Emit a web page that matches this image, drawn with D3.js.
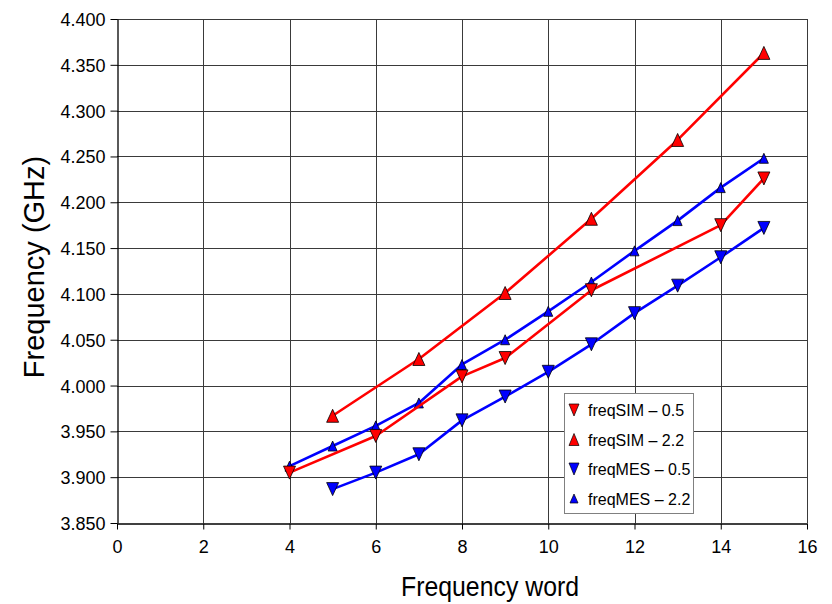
<!DOCTYPE html>
<html>
<head>
<meta charset="utf-8">
<script src="https://cdn.jsdelivr.net/npm/d3@7"></script>
<style>
  html, body { margin: 0; padding: 0; background: #fff; }
  svg { display: block; font-family: "Liberation Sans", Arial, sans-serif; }
</style>
</head>
<body>
<svg id="chart" width="832" height="604"></svg>
<script>
// Frequency word settings
const words = [4, 5, 6, 7, 8, 9, 10, 11, 12, 13, 14, 15];

// Measured / simulated oscillator frequencies (GHz)
const simLowX  = [4, 6, 8, 9, 11, 14, 15];
const simLow   = [3.905, 3.945, 4.010, 4.030, 4.104, 4.175, 4.226];
const simHighX = [5, 7, 9, 11, 13, 15];
const simHigh  = [3.967, 4.029, 4.101, 4.182, 4.268, 4.363];
const mesLowX  = [5, 6, 7, 8, 9, 10, 11, 12, 13, 14, 15];
const mesLow   = [3.887, 3.905, 3.925, 3.962, 3.988, 4.015, 4.045, 4.079, 4.109, 4.140, 4.172];
const mesHigh  = [3.912, 3.934, 3.956, 3.981, 4.023, 4.050, 4.081, 4.113, 4.147, 4.180, 4.216, 4.248];

const xTicks = [0, 2, 4, 6, 8, 10, 12, 14, 16];
const yTicks = [3.85, 3.90, 3.95, 4.00, 4.05, 4.10, 4.15, 4.20, 4.25, 4.30, 4.35, 4.40];

const seriesNames = ["freqSIM \u2013 0.5", "freqSIM \u2013 2.2", "freqMES \u2013 0.5", "freqMES \u2013 2.2"];

const series = [
  { name: seriesNames[2], xs: mesLowX, ys: mesLow,  color: "#0000ff", dir: "down", w: 12, h: 13 },
  { name: seriesNames[3], xs: words,   ys: mesHigh, color: "#0000ff", dir: "up",   w: 9,  h: 10 },
  { name: seriesNames[0], xs: simLowX, ys: simLow,  color: "#ff0000", dir: "down", w: 12, h: 13 },
  { name: seriesNames[1], xs: simHighX, ys: simHigh, color: "#ff0000", dir: "up",  w: 12, h: 13 }
];

const svg = d3.select("#chart");
const x = d3.scaleLinear().domain([0, 16]).range([117, 807]);
const y = d3.scaleLinear().domain([3.85, 4.40]).range([523, 19]);

svg.append("rect").attr("width", 832).attr("height", 604).attr("fill", "#fff");

// Gridlines
const grid = svg.append("g").attr("class", "grid");
grid.selectAll("line.h").data(yTicks.slice(1)).join("line")
  .attr("x1", x(0)).attr("x2", x(16))
  .attr("y1", d => Math.round(y(d)) + 0.5).attr("y2", d => Math.round(y(d)) + 0.5)
  .attr("stroke", "#3a3a3a").attr("stroke-width", 1);
grid.selectAll("line.v").data(xTicks.slice(1)).join("line")
  .attr("y1", y(4.40)).attr("y2", y(3.85))
  .attr("x1", d => Math.round(x(d)) + 0.5).attr("x2", d => Math.round(x(d)) + 0.5)
  .attr("stroke", "#3a3a3a").attr("stroke-width", 1);

// Axes
const yAxis = svg.append("g")
  .attr("transform", `translate(${Math.round(x(0)) + 0.5},0)`)
  .call(d3.axisLeft(y).tickValues(yTicks).tickFormat(d3.format(".3f")).tickSize(7).tickSizeOuter(0).tickPadding(5));
const xAxis = svg.append("g")
  .attr("transform", `translate(0,${Math.round(y(3.85)) + 0.5})`)
  .call(d3.axisBottom(x).tickValues(xTicks).tickFormat(d3.format("d")).tickSize(6).tickSizeOuter(0).tickPadding(11));

[yAxis, xAxis].forEach(a => {
  a.select(".domain").attr("stroke", "#000").attr("stroke-width", 1.3);
  a.selectAll(".tick line").attr("stroke", "#000");
  a.selectAll(".tick text").attr("fill", "#000").attr("font-size", 18)
    .attr("font-family", "'Liberation Sans', Arial, sans-serif");
});
yAxis.selectAll(".tick text").attr("dy", "0.36em");

// Triangle marker path centred on (cx, cy)
function tri(cx, cy, w, h, dir) {
  if (dir === "up") {
    return `M${cx},${cy - h / 2}L${cx + w / 2},${cy + h / 2}L${cx - w / 2},${cy + h / 2}Z`;
  }
  return `M${cx - w / 2},${cy - h / 2}L${cx + w / 2},${cy - h / 2}L${cx},${cy + h / 2}Z`;
}

const line = d3.line().x(d => x(d[0])).y(d => y(d[1]));

series.forEach(s => {
  const pts = s.xs.map((v, i) => [v, s.ys[i]]);
  const g = svg.append("g");
  g.append("path").datum(pts).attr("d", line)
    .attr("fill", "none").attr("stroke", s.color).attr("stroke-width", 2.6)
    .attr("stroke-linejoin", "round");
  g.selectAll("path.m").data(pts).join("path")
    .attr("d", d => tri(x(d[0]), y(d[1]), s.w, s.h, s.dir))
    .attr("fill", s.color).attr("stroke", "#000").attr("stroke-width", 0.8);
});

// Legend
const legendOrder = [series[2], series[3], series[0], series[1]];
const lg = svg.append("g").attr("transform", "translate(564,393)");
lg.append("rect").attr("x", 0.5).attr("y", 0.5).attr("width", 129).attr("height", 120)
  .attr("fill", "#fff").attr("stroke", "#808080").attr("stroke-width", 1);
legendOrder.forEach((s, i) => {
  const cy = 17 + i * 29.5;
  lg.append("path").attr("d", tri(10, cy, s.dir === "up" && s.color === "#0000ff" ? 8 : 10, s.dir === "up" && s.color === "#0000ff" ? 9 : 12, s.dir))
    .attr("fill", s.color).attr("stroke", "#000").attr("stroke-width", 0.7);
  lg.append("text").attr("x", 24).attr("y", cy + 6)
    .attr("font-size", 16).attr("fill", "#000").text(s.name);
});

// Axis titles
svg.append("text")
  .attr("transform", "translate(44,267) rotate(-90)")
  .attr("text-anchor", "middle").attr("font-size", 29).attr("fill", "#000")
  .text("Frequency (GHz)");
svg.append("text")
  .attr("transform", "translate(490,596) scale(0.92,1)")
  .attr("text-anchor", "middle").attr("font-size", 27).attr("fill", "#000")
  .text("Frequency word");
</script>
</body>
</html>
